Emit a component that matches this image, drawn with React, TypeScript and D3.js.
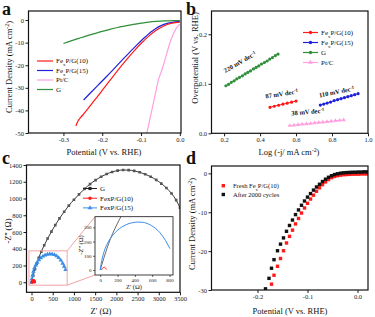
import * as d3 from 'd3';
import React, { useEffect, useRef } from 'react';

const W = 375;
const H = 317;
const FONT = '"Liberation Serif", "Times New Roman", serif';

type Pt = [number, number];

// ---- panel a: LSV curves (V vs RHE, mA cm-2)
const lsvFe10: Pt[] = [
    [-0.268, -46.9], [-0.262, -44.6], [-0.256, -43.2], [-0.248, -41.6], [-0.24, -39.9],
    [-0.22, -35.6], [-0.2, -31.1], [-0.18, -26.7], [-0.16, -22.3], [-0.14, -18.1],
    [-0.12, -14.1], [-0.1, -10.4], [-0.08, -7.1], [-0.06, -4.4], [-0.04, -2.5],
    [-0.02, -1.4], [0, -0.9],
];
const lsvFe15: Pt[] = [
    [-0.248, -35.4], [-0.23, -32.2], [-0.21, -28.7], [-0.19, -25.2], [-0.17, -21.6],
    [-0.15, -18.0], [-0.13, -14.4], [-0.11, -10.9], [-0.09, -7.6], [-0.07, -4.7],
    [-0.05, -2.6], [-0.03, -1.4], [-0.01, -0.8], [0, -0.6],
];
const lsvPt: Pt[] = [
    [-0.085, -50], [-0.078, -44.5], [-0.07, -38.2], [-0.062, -31.8], [-0.055, -26.4],
    [-0.048, -23.0], [-0.042, -19.8], [-0.036, -16.2], [-0.03, -12.6], [-0.024, -9.3],
    [-0.018, -6.6], [-0.012, -4.5], [-0.006, -2.9], [0, -1.9],
];
const lsvG: Pt[] = [
    [-0.3, -10.4], [-0.28, -9.2], [-0.26, -8.1], [-0.24, -7.0], [-0.22, -6.0], [-0.2, -5.0],
    [-0.18, -4.1], [-0.16, -3.3], [-0.14, -2.6], [-0.12, -1.9], [-0.1, -1.4], [-0.08, -0.9],
    [-0.06, -0.6], [-0.04, -0.4], [-0.02, -0.3], [0, -0.2],
];

// ---- panel b: Tafel plots
const tafelFe10: Pt[] = [
    [0.455, 0.0525], [0.479, 0.0546], [0.503, 0.0567], [0.527, 0.0588], [0.551, 0.0608],
    [0.575, 0.0629], [0.6, 0.065],
];
const tafelFe15: Pt[] = [
    [0.735, 0.057], [0.754, 0.059], [0.773, 0.061], [0.792, 0.063], [0.812, 0.066],
    [0.831, 0.068], [0.85, 0.07], [0.869, 0.072], [0.888, 0.074], [0.907, 0.076],
    [0.926, 0.078], [0.945, 0.08],
];
const tafelG: Pt[] = [
    [0.21, 0.096], [0.225, 0.099], [0.24, 0.103], [0.256, 0.106], [0.271, 0.11],
    [0.286, 0.113], [0.302, 0.116], [0.317, 0.12], [0.332, 0.123], [0.347, 0.126],
    [0.363, 0.13], [0.378, 0.133], [0.393, 0.136], [0.408, 0.14], [0.424, 0.143],
    [0.439, 0.146], [0.454, 0.15], [0.469, 0.153], [0.485, 0.157], [0.5, 0.16],
];
const tafelPt: Pt[] = [
    [0.565, 0.0155], [0.588, 0.0164], [0.611, 0.0173], [0.634, 0.0181], [0.657, 0.019],
    [0.68, 0.0199], [0.703, 0.0208], [0.726, 0.0217], [0.749, 0.0225], [0.772, 0.0234],
    [0.795, 0.0243], [0.819, 0.0252], [0.842, 0.0261], [0.865, 0.027],
];
const slopeLabels = ['220', '87', '110', '38'];

// ---- panel c: Nyquist plots (ohm)
const eisG: Pt[] = [
    [0, 0], [40, 80], [80, 155], [120, 222], [170, 292], [230, 365], [300, 442], [380, 522],
    [470, 605], [560, 682], [660, 762], [770, 842], [880, 915], [1000, 985], [1120, 1050],
    [1250, 1115], [1380, 1172], [1510, 1220], [1640, 1260], [1770, 1292], [1900, 1317],
    [2030, 1333], [2160, 1340], [2290, 1339], [2420, 1330], [2550, 1313], [2680, 1290],
    [2810, 1260], [2940, 1222], [3060, 1178], [3180, 1125], [3300, 1060], [3410, 980],
    [3500, 890],
];
const eisFe10: Pt[] = [
    [15, 0], [20, 8], [28, 14], [38, 18], [48, 19], [58, 16], [66, 10], [72, 4],
];
const eisFe15: Pt[] = [
    [0, 0], [10, 40], [25, 85], [45, 130], [70, 170], [100, 205], [135, 237], [175, 265],
    [220, 290], [270, 310], [320, 324], [375, 333], [430, 337], [485, 336], [540, 328],
    [590, 313], [640, 292], [690, 262], [735, 225], [770, 190], [805, 150],
];

// ---- panel d: stability LSV
const lsvFresh: Pt[] = [
    [-0.172, -28.5], [-0.167, -26.2], [-0.16, -23.9], [-0.154, -21.9], [-0.148, -19.9],
    [-0.142, -17.9], [-0.136, -16.2], [-0.13, -14.6], [-0.124, -13.0], [-0.118, -11.6],
    [-0.112, -10.2], [-0.106, -8.9], [-0.1, -7.7], [-0.094, -6.6], [-0.088, -5.6],
    [-0.082, -4.6], [-0.076, -3.7], [-0.07, -2.9], [-0.064, -2.2], [-0.058, -1.6],
    [-0.052, -1.1], [-0.046, -0.8], [-0.04, -0.6], [-0.034, -0.45], [-0.028, -0.35],
    [-0.022, -0.3], [-0.016, -0.25], [-0.01, -0.2], [-0.004, -0.2], [0.002, -0.2],
    [0.008, -0.15], [0.014, -0.15], [0.02, -0.15],
];
const lsvCycled: Pt[] = [
    [-0.184, -29.7], [-0.177, -27.0], [-0.172, -24.4], [-0.167, -22.2], [-0.16, -19.9],
    [-0.154, -18.2], [-0.148, -16.6], [-0.142, -14.9], [-0.136, -13.4], [-0.13, -12.0],
    [-0.124, -10.6], [-0.118, -9.4], [-0.112, -8.2], [-0.106, -7.1], [-0.1, -6.1],
    [-0.094, -5.2], [-0.088, -4.3], [-0.082, -3.5], [-0.076, -2.8], [-0.07, -2.1],
    [-0.064, -1.5], [-0.058, -1.0], [-0.052, -0.6], [-0.046, -0.3], [-0.04, -0.1],
    [-0.034, 0.05], [-0.028, 0.15], [-0.022, 0.2], [-0.016, 0.25], [-0.01, 0.3],
    [-0.004, 0.3], [0.002, 0.35], [0.008, 0.35], [0.014, 0.4], [0.02, 0.4],
];

type Part = [string, string?];
type Sel = d3.Selection<any, unknown, null, undefined>;

const RED = '#ff1a1a';
const BLUE = '#2020d8';
const PINK = '#ff9fe0';
const GREEN = '#2f8f3a';

function rich(g: Sel, parts: Part[], size: number, weight = 'normal') {
    const t = g
        .append('text')
        .attr('font-family', FONT)
        .attr('font-size', size)
        .attr('font-weight', weight)
        .attr('fill', '#111');
    parts.forEach(([s, k]) => {
        const ts = t.append('tspan').text(s);
        if (k === 'sub') ts.attr('baseline-shift', 'sub').attr('font-size', size * 0.7);
        if (k === 'sup') ts.attr('baseline-shift', 'super').attr('font-size', size * 0.7);
    });
    return t;
}

function axes(
    svg: Sel,
    x: d3.ScaleLinear<number, number>,
    y: d3.ScaleLinear<number, number>,
    xTicks: number[],
    yTicks: number[],
    xFmt: (d: number) => string,
    yFmt: (d: number) => string,
    fs = 6.5,
    tick = 3,
    sw = 1.2,
) {
    const [l, r] = x.range();
    const [b, t] = y.range();
    const gx = svg
        .append('g')
        .attr('transform', `translate(0,${b})`)
        .call(
            d3.axisBottom(x).tickValues(xTicks).tickSize(tick).tickSizeOuter(0).tickPadding(1.5)
                .tickFormat((d) => xFmt(+d)),
        );
    const gy = svg
        .append('g')
        .attr('transform', `translate(${l},0)`)
        .call(
            d3.axisLeft(y).tickValues(yTicks).tickSize(tick).tickSizeOuter(0).tickPadding(1.5)
                .tickFormat((d) => yFmt(+d)),
        );
    [gx, gy].forEach((g) => {
        g.select('.domain').remove();
        g.selectAll('text').attr('font-family', FONT).attr('font-size', fs).attr('fill', '#222');
        g.selectAll('line').attr('stroke', '#111').attr('stroke-width', sw * 0.8);
    });
    svg.append('rect')
        .attr('x', l).attr('y', t).attr('width', r - l).attr('height', b - t)
        .attr('fill', 'none').attr('stroke', '#111').attr('stroke-width', sw);
}

function clip(svg: Sel, id: string, x: d3.ScaleLinear<number, number>, y: d3.ScaleLinear<number, number>) {
    const [l, r] = x.range();
    const [b, t] = y.range();
    svg.append('clipPath').attr('id', id).append('rect')
        .attr('x', l).attr('y', t).attr('width', r - l).attr('height', b - t);
    return svg.append('g').attr('clip-path', `url(#${id})`);
}

const fmt1 = (d: number) => d.toFixed(1);
const fmt0 = (d: number) => String(d);

const App: React.FC = () => {
    const svgRef = useRef<SVGSVGElement | null>(null);

    useEffect(() => {
        if (!svgRef.current) return;
        const svg = d3.select(svgRef.current) as unknown as Sel;
        svg.selectAll('*').remove();

        // ================= a =================
        const xa = d3.scaleLinear().domain([-0.39, 0.003]).range([28.5, 181]);
        const ya = d3.scaleLinear().domain([-50, 4]).range([133, 11]);
        const la = d3.line<Pt>().x((d) => xa(d[0])).y((d) => ya(d[1])).curve(d3.curveMonotoneX);
        const ca = clip(svg, 'clipA', xa, ya);
        const seriesA: [Pt[], string][] = [[lsvG, GREEN], [lsvPt, PINK], [lsvFe15, BLUE], [lsvFe10, RED]];
        seriesA.forEach(([d, c]) =>
            ca.append('path').datum(d).attr('d', la).attr('fill', 'none').attr('stroke', c).attr('stroke-width', 1.2),
        );
        axes(svg, xa, ya, [-0.3, -0.2, -0.1, 0], [0, -10, -20, -30, -40, -50], fmt1, fmt0);
        const legA: [Part[], string][] = [
            [[['Fe'], ['x', 'sub'], ['P/G(10)']], RED],
            [[['Fe'], ['x', 'sub'], ['P/G(15)']], BLUE],
            [[['Pt/C']], PINK],
            [[['G']], GREEN],
        ];
        legA.forEach(([p, c], i) => {
            const yy = 61 + i * 9.5;
            svg.append('line').attr('x1', 37).attr('x2', 53).attr('y1', yy).attr('y2', yy)
                .attr('stroke', c).attr('stroke-width', 1.2);
            rich(svg, p, 7).attr('x', 56).attr('y', yy + 2.4);
        });
        rich(svg, [['Potential (V vs. RHE)']], 8.5).attr('x', 104).attr('y', 154.5).attr('text-anchor', 'middle');
        rich(svg, [['Current Density (mA cm'], ['-2', 'sup'], [')']], 8.5)
            .attr('text-anchor', 'middle').attr('transform', 'translate(11.5,67) rotate(-90)');
        rich(svg, [['a']], 18, 'bold').attr('x', 2).attr('y', 15);

        // ================= b =================
        const xb = d3.scaleLinear().domain([0.13, 1.0]).range([211.5, 368]);
        const yb = d3.scaleLinear().domain([0, 0.247]).range([133.3, 11]);
        const lb = d3.line<Pt>().x((d) => xb(d[0])).y((d) => yb(d[1]));
        const seriesB: [Pt[], string, d3.SymbolType][] = [
            [tafelG, GREEN, d3.symbolCircle],
            [tafelFe10, RED, d3.symbolCircle],
            [tafelFe15, BLUE, d3.symbolCircle],
            [tafelPt, PINK, d3.symbolTriangle],
        ];
        const cb = clip(svg, 'clipB', xb, yb);
        seriesB.forEach(([d, c, s]) => {
            cb.append('path').datum(d).attr('d', lb).attr('fill', 'none').attr('stroke', c).attr('stroke-width', 1);
            cb.selectAll(null).data(d).enter().append('path')
                .attr('d', d3.symbol().type(s).size(8)())
                .attr('transform', (p) => `translate(${xb(p[0])},${yb(p[1])})`)
                .attr('fill', c);
        });
        axes(svg, xb, yb, [0.2, 0.4, 0.6, 0.8, 1.0], [0, 0.1, 0.2], fmt1, fmt1);
        const legB: [Part[], string, d3.SymbolType][] = [
            [[['Fe'], ['x', 'sub'], ['P/G(10)']], RED, d3.symbolCircle],
            [[['Fe'], ['x', 'sub'], ['P/G(15)']], BLUE, d3.symbolCircle],
            [[['G']], GREEN, d3.symbolCircle],
            [[['Pt/C']], PINK, d3.symbolTriangle],
        ];
        legB.forEach(([p, c, s], i) => {
            const yy = 32.5 + i * 10;
            svg.append('line').attr('x1', 303).attr('x2', 318).attr('y1', yy).attr('y2', yy)
                .attr('stroke', c).attr('stroke-width', 1.2);
            svg.append('path').attr('d', d3.symbol().type(s).size(9)())
                .attr('transform', `translate(310.5,${yy})`).attr('fill', c);
            rich(svg, p, 7).attr('x', 321).attr('y', yy + 2.4);
        });
        const slopePos: [number, number, number][] = [
            [241, 64, -30], [282, 96, -9], [337, 94, -11], [308, 114, -5],
        ];
        slopeLabels.forEach((s, i) => {
            const [px, py, rot] = slopePos[i];
            rich(svg, [[`${s} mV dec`], ['-1', 'sup']], 6.5, 'bold')
                .attr('text-anchor', 'middle')
                .attr('transform', `translate(${px},${py}) rotate(${rot})`);
        });
        rich(svg, [['Log (-j/ mA cm'], ['-2', 'sup'], [')']], 8.5).attr('x', 289).attr('y', 154.5).attr('text-anchor', 'middle');
        rich(svg, [['Overpotential (V vs. RHE)']], 8.5)
            .attr('text-anchor', 'middle').attr('transform', 'translate(198,58) rotate(-90)');
        rich(svg, [['b']], 18, 'bold').attr('x', 186).attr('y', 15);

        // ================= c =================
        const xc = d3.scaleLinear().domain([-118, 3500]).range([26.5, 180]);
        const yc = d3.scaleLinear().domain([-120, 1400]).range([292.3, 165]);
        const lc = d3.line<Pt>().x((d) => xc(d[0])).y((d) => yc(d[1])).curve(d3.curveMonotoneX);
        const seriesC: [Pt[], string, string, d3.SymbolType, number][] = [
            [eisG, '#222', '#555', d3.symbolSquare, 7],
            [eisFe15, '#3a8ee6', '#3a8ee6', d3.symbolTriangle, 9],
            [eisFe10, RED, RED, d3.symbolCircle, 8],
        ];
        const cc = clip(svg, 'clipC', xc, yc);
        seriesC.forEach(([d, lcol, mcol, s, sz]) => {
            cc.append('path').datum(d).attr('d', lc).attr('fill', 'none').attr('stroke', lcol).attr('stroke-width', 0.9);
            cc.selectAll(null).data(d).enter().append('path')
                .attr('d', d3.symbol().type(s).size(sz)())
                .attr('transform', (p) => `translate(${xc(p[0])},${yc(p[1])})`)
                .attr('fill', mcol);
        });
        axes(svg, xc, yc, d3.range(0, 3501, 500), d3.range(0, 1401, 200), fmt0, fmt0);

        // zoom box and inset
        const zx: [number, number] = [-60, 840];
        const zy: [number, number] = [-35, 375];
        const PINKBOX = '#f4a3a3';
        svg.append('rect')
            .attr('x', xc(zx[0])).attr('y', yc(zy[1]))
            .attr('width', xc(zx[1]) - xc(zx[0])).attr('height', yc(zy[0]) - yc(zy[1]))
            .attr('fill', 'none').attr('stroke', PINKBOX).attr('stroke-width', 1);
        const xi = d3.scaleLinear().domain(zx).range([95, 173]);
        const yi = d3.scaleLinear().domain(zy).range([275, 216.7]);
        svg.append('rect').attr('x', 95).attr('y', 216.7).attr('width', 78).attr('height', 58.3)
            .attr('fill', 'white');
        svg.append('line').attr('x1', xc(zx[1])).attr('y1', yc(zy[1])).attr('x2', 95).attr('y2', 216.7)
            .attr('stroke', PINKBOX).attr('stroke-width', 1);
        svg.append('line').attr('x1', xc(zx[1])).attr('y1', yc(zy[0])).attr('x2', 95).attr('y2', 275)
            .attr('stroke', PINKBOX).attr('stroke-width', 1);
        const li = d3.line<Pt>().x((d) => xi(d[0])).y((d) => yi(d[1])).curve(d3.curveMonotoneX);
        const ci = clip(svg, 'clipI', xi, yi);
        ci.append('path').datum(eisG).attr('d', li).attr('fill', 'none').attr('stroke', '#444').attr('stroke-width', 0.8);
        ci.append('path').datum(eisFe15).attr('d', li).attr('fill', 'none').attr('stroke', '#3a8ee6').attr('stroke-width', 1);
        ci.append('path').datum(eisFe10).attr('d', li).attr('fill', 'none').attr('stroke', RED).attr('stroke-width', 1);
        axes(svg, xi, yi, [0, 200, 400, 600, 800], [0, 100, 200, 300], fmt0, fmt0, 5, 2, 0.8);
        rich(svg, [["Z' (Ω)"]], 6.5).attr('x', 134).attr('y', 289).attr('text-anchor', 'middle');
        rich(svg, [["-Z'' (Ω)"]], 6.5)
            .attr('text-anchor', 'middle').attr('transform', 'translate(83,245) rotate(-90)');

        const legC: [string, string, d3.SymbolType][] = [
            ['G', '#222', d3.symbolSquare],
            ['FexP/G(10)', RED, d3.symbolCircle],
            ['FexP/G(15)', '#3a8ee6', d3.symbolTriangle],
        ];
        legC.forEach(([s, c, sym], i) => {
            const yy = 188.5 + i * 9.7;
            svg.append('line').attr('x1', 83).attr('x2', 97).attr('y1', yy).attr('y2', yy)
                .attr('stroke', c).attr('stroke-width', 1);
            svg.append('path').attr('d', d3.symbol().type(sym).size(10)())
                .attr('transform', `translate(90,${yy})`).attr('fill', c);
            rich(svg, [[s]], 7).attr('x', 100).attr('y', yy + 2.4);
        });
        rich(svg, [["Z' (Ω)"]], 8.5).attr('x', 101).attr('y', 314).attr('text-anchor', 'middle');
        rich(svg, [["-Z'' (Ω)"]], 8.5)
            .attr('text-anchor', 'middle').attr('transform', 'translate(11,231) rotate(-90)');
        rich(svg, [['c']], 18, 'bold').attr('x', 2).attr('y', 164);

        // ================= d =================
        const xd = d3.scaleLinear().domain([-0.292, 0.021]).range([211.5, 368]);
        const yd = d3.scaleLinear().domain([-30, 1.9]).range([290, 166]);
        const cd = clip(svg, 'clipD', xd, yd);
        const seriesD: [Pt[], string][] = [[lsvFresh, RED], [lsvCycled, '#111']];
        seriesD.forEach(([d, c]) => {
            cd.selectAll(null).data(d).enter().append('rect')
                .attr('x', (p) => xd(p[0]) - 1.7).attr('y', (p) => yd(p[1]) - 1.7)
                .attr('width', 3.4).attr('height', 3.4).attr('fill', c);
        });
        axes(svg, xd, yd, [-0.2, -0.1, 0], [0, -10, -20, -30], fmt1, fmt0);
        const legD: [Part[], string][] = [
            [[['Fresh Fe'], ['x', 'sub'], ['P/G(10)']], RED],
            [[['After 2000 cycles']], '#111'],
        ];
        legD.forEach(([p, c], i) => {
            const yy = 185.7 + i * 8.8;
            svg.append('rect').attr('x', 221.6).attr('y', yy - 1.7).attr('width', 3.4).attr('height', 3.4).attr('fill', c);
            rich(svg, p, 6.5).attr('x', 233).attr('y', yy + 2.2);
        });
        rich(svg, [['Potential (V vs. RHE)']], 8.5).attr('x', 290).attr('y', 313.5).attr('text-anchor', 'middle');
        rich(svg, [['Current Density (mA cm'], ['-2', 'sup'], [')']], 8.5)
            .attr('text-anchor', 'middle').attr('transform', 'translate(195,224) rotate(-90)');
        rich(svg, [['d']], 18, 'bold').attr('x', 186).attr('y', 164);
    }, []);

    return (
        <svg
            ref={svgRef}
            width={W}
            height={H}
            style={{ position: 'absolute', left: 0, top: 0, background: '#fff' }}
        />
    );
};

export default App;
